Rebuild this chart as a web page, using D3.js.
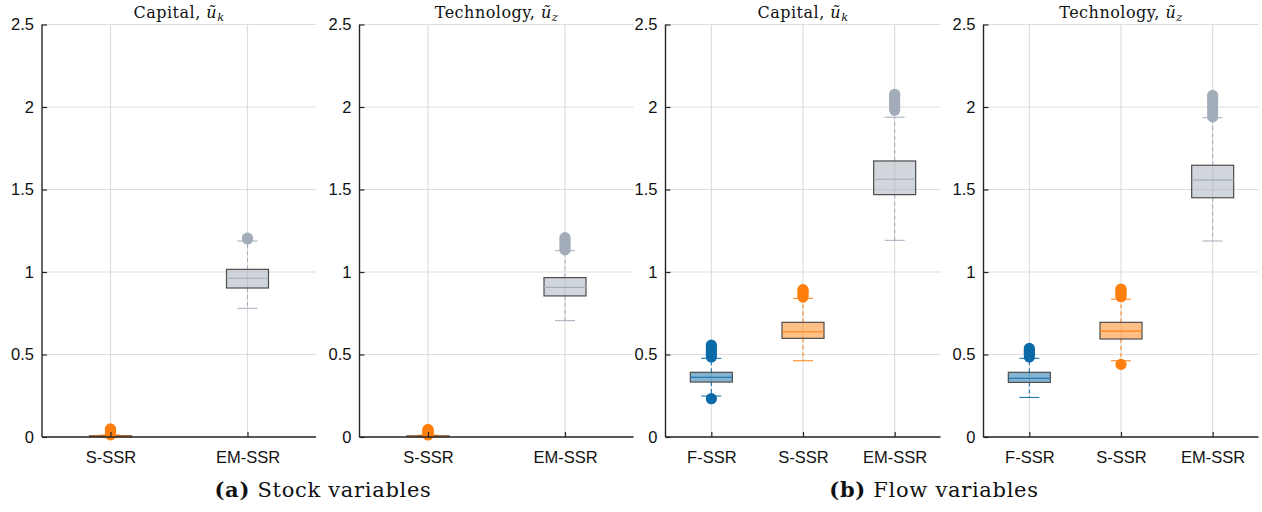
<!DOCTYPE html>
<html>
<head>
<meta charset="utf-8">
<script src="https://cdn.jsdelivr.net/npm/d3@7"></script>
<style>
  html, body { margin: 0; padding: 0; background: #fff; }
  svg { display: block; }
</style>
</head>
<body>
<svg id="chart" width="1262" height="512"></svg>
<script>
// Category labels
const stockCategories = ["S-SSR", "EM-SSR"];
const flowCategories = ["F-SSR", "S-SSR", "EM-SSR"];
const yTicks = [0, 0.5, 1, 1.5, 2, 2.5];

// Box statistics per category: [lower whisker, q1, median, q3, upper whisker]
const stockCapitalStats = [
  [0.000, 0.002, 0.005, 0.008, 0.012],
  [0.780, 0.903, 0.962, 1.016, 1.188]
];
const stockTechStats = [
  [0.000, 0.002, 0.004, 0.007, 0.011],
  [0.705, 0.855, 0.907, 0.966, 1.129]
];
const flowCapitalStats = [
  [0.248, 0.333, 0.362, 0.392, 0.477],
  [0.462, 0.598, 0.638, 0.695, 0.840],
  [1.192, 1.469, 1.562, 1.673, 1.938]
];
const flowTechStats = [
  [0.240, 0.331, 0.356, 0.392, 0.477],
  [0.462, 0.594, 0.642, 0.695, 0.835],
  [1.188, 1.450, 1.558, 1.647, 1.935]
];

// Outlying observations per category
const stockCapitalOutliers = [
  [0.013, 0.018, 0.024, 0.031, 0.037, 0.043, 0.049],
  [1.200, 1.205]
];
const stockTechOutliers = [
  [0.012, 0.017, 0.023, 0.029, 0.035, 0.041, 0.046],
  [1.135, 1.150, 1.165, 1.180, 1.195, 1.208]
];
const flowCapitalOutliers = [
  [0.232, 0.485, 0.500, 0.515, 0.530, 0.545, 0.557],
  [0.848, 0.860, 0.872, 0.884, 0.893],
  [1.980, 1.995, 2.010, 2.025, 2.040, 2.055, 2.070, 2.077]
];
const flowTechOutliers = [
  [0.485, 0.500, 0.512, 0.525, 0.537],
  [0.440, 0.850, 0.862, 0.875, 0.887, 0.897],
  [1.940, 1.960, 1.980, 2.000, 2.020, 2.040, 2.055, 2.070]
];

// Colours for each estimator
const seriesColor = { "F-SSR": "#0b6aa8", "S-SSR": "#ff7f0e", "EM-SSR": "#a3acb9" };

const panels = [
  { x0: 42,    x1: 316,   cats: stockCategories, stats: stockCapitalStats, outliers: stockCapitalOutliers, title: "Capital", sub: "k" },
  { x0: 359.5, x1: 633.5, cats: stockCategories, stats: stockTechStats,    outliers: stockTechOutliers,    title: "Technology", sub: "z" },
  { x0: 665.5, x1: 940.5, cats: flowCategories,  stats: flowCapitalStats,  outliers: flowCapitalOutliers,  title: "Capital", sub: "k" },
  { x0: 983.5, x1: 1258.5, cats: flowCategories, stats: flowTechStats,     outliers: flowTechOutliers,     title: "Technology", sub: "z" }
];

const svg = d3.select("#chart");
const yTop = 24.5, yBottom = 437;
const y = d3.scaleLinear().domain([0, 2.5]).range([yBottom, yTop]);
const boxW = 42, capW = 20, r = 5.6;
const sans = "'Liberation Sans', Arial, Helvetica, sans-serif";
const serif = "'DejaVu Serif', 'Liberation Serif', serif";

panels.forEach(p => {
  const x = d3.scalePoint().domain(p.cats).range([p.x0, p.x1]).padding(0.5);
  const g = svg.append("g");

  // grid
  g.append("g").selectAll("line").data(yTicks).join("line")
    .attr("x1", p.x0).attr("x2", p.x1)
    .attr("y1", d => y(d)).attr("y2", d => y(d))
    .attr("stroke", "#dedede").attr("stroke-width", 1.2);
  g.append("g").selectAll("line").data(p.cats).join("line")
    .attr("x1", d => x(d)).attr("x2", d => x(d))
    .attr("y1", yTop).attr("y2", yBottom)
    .attr("stroke", "#dedede").attr("stroke-width", 1.2);

  // boxes
  p.cats.forEach((c, i) => {
    const [lo, q1, med, q3, hi] = p.stats[i];
    const cx = x(c);
    const col = seriesColor[c];
    const bg = g.append("g");
    // whiskers
    bg.append("line").attr("x1", cx).attr("x2", cx).attr("y1", y(q3)).attr("y2", y(hi))
      .attr("stroke", col).attr("stroke-width", 1).attr("stroke-dasharray", "4,3");
    bg.append("line").attr("x1", cx).attr("x2", cx).attr("y1", y(q1)).attr("y2", y(lo))
      .attr("stroke", col).attr("stroke-width", 1).attr("stroke-dasharray", "4,3");
    bg.append("line").attr("x1", cx - capW / 2).attr("x2", cx + capW / 2).attr("y1", y(hi)).attr("y2", y(hi))
      .attr("stroke", col).attr("stroke-width", 1);
    bg.append("line").attr("x1", cx - capW / 2).attr("x2", cx + capW / 2).attr("y1", y(lo)).attr("y2", y(lo))
      .attr("stroke", col).attr("stroke-width", 1);
    // box
    bg.append("rect").attr("x", cx - boxW / 2).attr("width", boxW)
      .attr("y", y(q3)).attr("height", Math.max(0.5, y(q1) - y(q3)))
      .attr("fill", col).attr("fill-opacity", 0.5)
      .attr("stroke", "#4d4d4d").attr("stroke-width", 1.2);
    bg.append("line").attr("x1", cx - boxW / 2).attr("x2", cx + boxW / 2).attr("y1", y(med)).attr("y2", y(med))
      .attr("stroke", col).attr("stroke-width", 1.2);
    // outliers
    bg.append("g").selectAll("circle").data(p.outliers[i]).join("circle")
      .attr("cx", cx).attr("cy", d => y(d)).attr("r", r).attr("fill", col);
  });

  // axes
  const yAxis = d3.axisLeft(y).tickValues(yTicks).tickSize(-5).tickPadding(8)
    .tickFormat(d => d3.format("")(d));
  const ya = g.append("g").attr("transform", `translate(${p.x0},0)`).call(yAxis);
  const xAxis = d3.axisBottom(x).tickSize(-5).tickPadding(14);
  const xa = g.append("g").attr("transform", `translate(0,${yBottom})`).call(xAxis);
  [ya, xa].forEach(a => {
    a.select(".domain").attr("stroke", "#262626").attr("stroke-width", 1.4);
    a.selectAll(".tick line").attr("stroke", "#262626").attr("stroke-width", 1.2);
    a.selectAll("text").attr("fill", "#111").style("font-family", sans).style("font-size", "16.5px");
  });
  ya.select(".domain").attr("d", `M0,${yBottom}V${yTop}`);
  xa.select(".domain").attr("d", `M${p.x0},0H${p.x1}`);

  // title
  const t = g.append("text").attr("x", (p.x0 + p.x1) / 2).attr("y", 18)
    .attr("text-anchor", "middle").style("font-family", serif).style("font-size", "16px")
    .style("font-weight", "300").style("letter-spacing", "0.5px").attr("fill", "#111");
  t.append("tspan").text(p.title + ", ");
  t.append("tspan").style("font-style", "italic").text("ũ");
  t.append("tspan").style("font-style", "italic").style("font-size", "11.5px").attr("dy", 3).text(p.sub);
});

// sub-figure captions
const captions = [
  { x: 323, tag: "(a)", text: " Stock variables" },
  { x: 934, tag: "(b)", text: " Flow variables" }
];
captions.forEach(c => {
  const t = svg.append("text").attr("x", c.x).attr("y", 497).attr("text-anchor", "middle")
    .style("font-family", serif).style("font-size", "21px").style("letter-spacing", "0.7px").attr("fill", "#111");
  t.append("tspan").style("font-weight", "bold").text(c.tag);
  t.append("tspan").text(c.text);
});
</script>
</body>
</html>
